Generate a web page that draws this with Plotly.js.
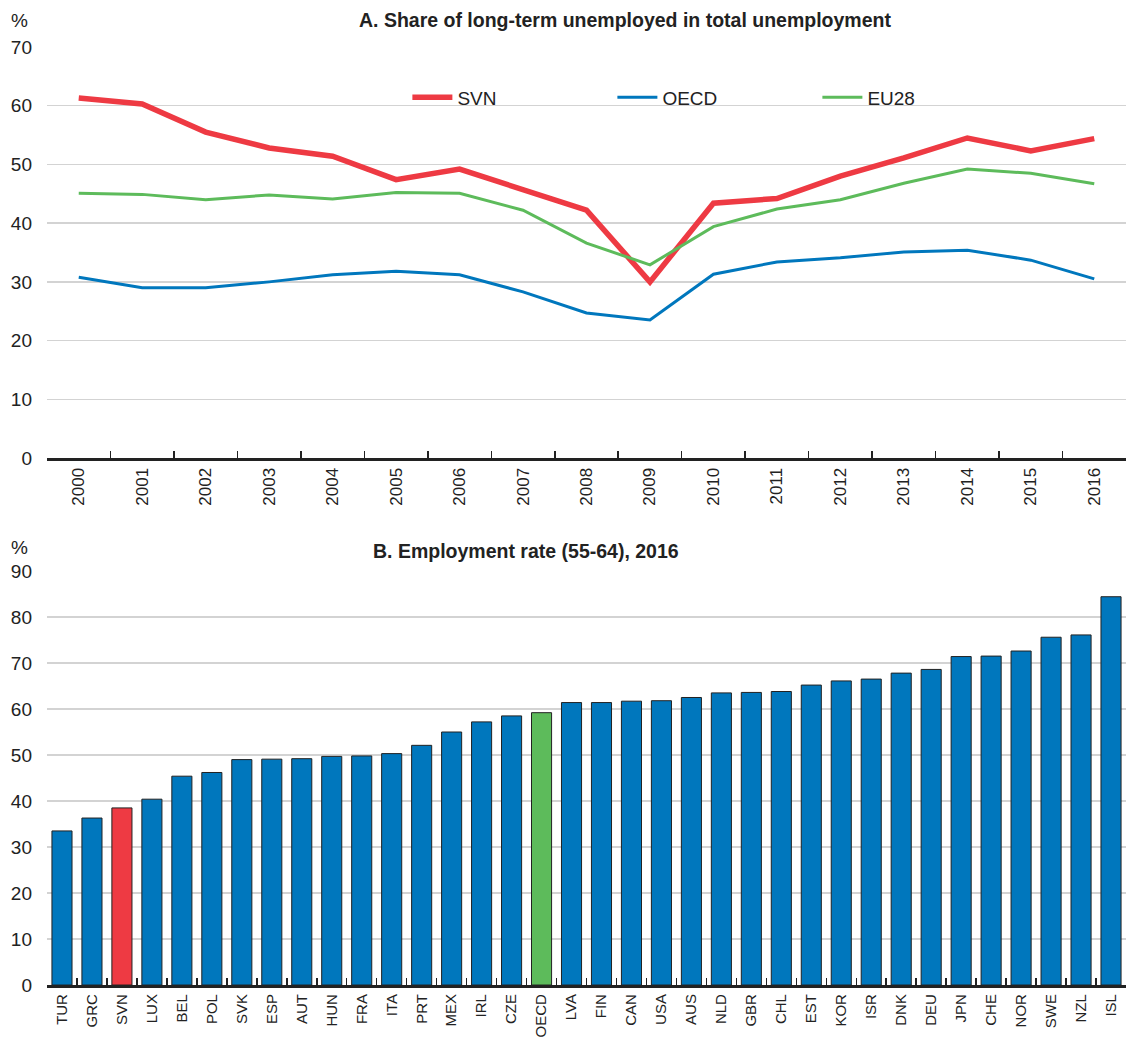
<!DOCTYPE html>
<html><head><meta charset="utf-8">
<script src="https://cdn.plot.ly/plotly-3.0.1.min.js"></script>
<style>html,body{margin:0;padding:0;background:#fff}#c{width:1126px;height:1037px}</style>
</head><body><div id="c"></div>
<script>
const years = ["2000","2001","2002","2003","2004","2005","2006","2007","2008","2009","2010","2011","2012","2013","2014","2015","2016"];
const svn = [61.3,60.3,55.5,52.8,51.4,47.4,49.2,45.6,42.2,30.0,43.4,44.2,48.0,51.1,54.5,52.3,54.4];
const oecd = [30.8,29.0,29.0,30.0,31.2,31.8,31.2,28.3,24.7,23.5,31.3,33.4,34.1,35.1,35.4,33.7,30.5];
const eu28 = [45.1,44.9,44.0,44.8,44.1,45.2,45.1,42.2,36.6,32.9,39.4,42.4,44.0,46.8,49.2,48.5,46.7];

const countries = ["TUR","GRC","SVN","LUX","BEL","POL","SVK","ESP","AUT","HUN","FRA","ITA","PRT","MEX","IRL","CZE","OECD","LVA","FIN","CAN","USA","AUS","NLD","GBR","CHL","EST","KOR","ISR","DNK","DEU","JPN","CHE","NOR","SWE","NZL","ISL"];
const emp = [33.5,36.3,38.5,40.4,45.4,46.2,49.0,49.1,49.2,49.7,49.8,50.3,52.1,55.0,57.2,58.5,59.2,61.4,61.4,61.7,61.8,62.5,63.5,63.6,63.8,65.2,66.1,66.5,67.8,68.6,71.4,71.5,72.6,75.6,76.1,84.4];

const RED = "#EE3A43", BLUE = "#0077BD", GREEN = "#5DBB5B";
const FONT = "Liberation Sans, Arial, sans-serif";
const barColors = countries.map(c => c === "SVN" ? RED : (c === "OECD" ? GREEN : BLUE));

const traces = [
  {x: years, y: svn, name: "SVN", type: "scatter", mode: "lines", line: {color: RED, width: 5.5}, xaxis: "x", yaxis: "y"},
  {x: years, y: oecd, name: "OECD", type: "scatter", mode: "lines", line: {color: BLUE, width: 3}, xaxis: "x", yaxis: "y"},
  {x: years, y: eu28, name: "EU28", type: "scatter", mode: "lines", line: {color: GREEN, width: 3}, xaxis: "x", yaxis: "y"},
  {x: countries, y: emp, type: "bar", showlegend: false, marker: {color: barColors, line: {color: "#222", width: 1}}, xaxis: "x2", yaxis: "y2"}
];

const yax = (dom, max) => ({domain: dom, range: [0, max], dtick: 10, showgrid: true, gridcolor: "#d3d3d3", gridwidth: 1.5,
  zeroline: false, showline: false, ticks: "", ticklabelstandoff: 14, automargin: false,
  tickfont: {family: FONT, size: 19, color: "#222"}, fixedrange: true});
const xax = (anchor, fs) => ({domain: [0, 1], anchor: anchor, type: "category", showline: true, linecolor: "#222", linewidth: 3,
  ticks: "inside", ticklen: 7, tickwidth: 1.5, tickcolor: "#222", tickson: "boundaries", tickangle: -90,
  showgrid: false, zeroline: false, tickfont: {family: FONT, size: fs, color: "#222"}, automargin: false});

const layout = {
  width: 1126, height: 1037,
  margin: {l: 47, r: 0, t: 0, b: 0, autoexpand: false},
  paper_bgcolor: "#fff", plot_bgcolor: "#fff",
  showlegend: true,
  legend: {orientation: "h", x: 0.334, xanchor: "left", y: 0.906, yanchor: "middle", bgcolor: "rgba(0,0,0,0)",
    entrywidth: 150, entrywidthmode: "pixels", itemwidth: 40, font: {family: FONT, size: 19, color: "#222"}, tracegroupgap: 0},
  xaxis: Object.assign(xax("y", 17), {range: [-0.5, 16.5]}),
  yaxis: yax([0.5583, 0.9547], 70),
  xaxis2: Object.assign(xax("y2", 15), {range: [-0.5, 35.5], ticklabelstandoff: 0}),
  yaxis2: yax([0.0501, 0.4494], 90),
  bargap: 0.33,
  annotations: [
    {text: "<b>A. Share of long-term unemployed in total unemployment</b>", xref: "paper", yref: "paper", x: 0.536, y: 1 - 20/1037, xanchor: "center", yanchor: "middle", showarrow: false, font: {family: FONT, size: 19.5, color: "#222"}},
    {text: "<b>B. Employment rate (55-64), 2016</b>", xref: "paper", yref: "paper", x: 0.444, y: 1 - 551/1037, xanchor: "center", yanchor: "middle", showarrow: false, font: {family: FONT, size: 19.5, color: "#222"}},
    {text: "%", xref: "paper", yref: "paper", x: -28/1079, y: 1 - 20/1037, xanchor: "center", yanchor: "middle", showarrow: false, font: {family: FONT, size: 19, color: "#222"}},
    {text: "%", xref: "paper", yref: "paper", x: -28/1079, y: 1 - 547/1037, xanchor: "center", yanchor: "middle", showarrow: false, font: {family: FONT, size: 19, color: "#222"}}
  ]
};
Plotly.newPlot("c", traces, layout, {staticPlot: true, displayModeBar: false});
</script></body></html>
